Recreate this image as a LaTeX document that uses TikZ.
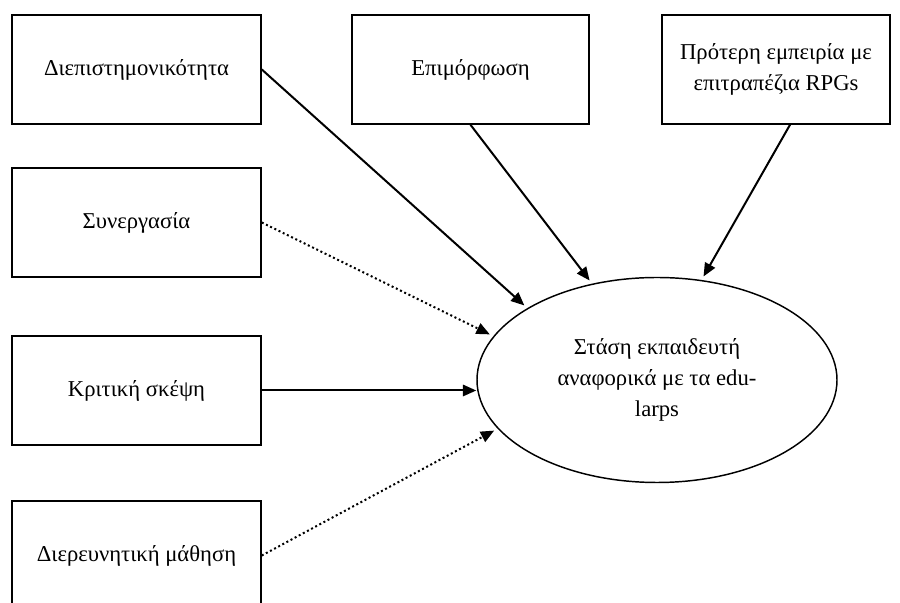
\documentclass[tikz,border=0pt]{standalone}
\usepackage{fontspec}
\setmainfont{Liberation Serif}
\usepackage{tikz}
\usetikzlibrary{arrows.meta,positioning,shapes.geometric}

\begin{document}
\begin{tikzpicture}[x=0.75pt,y=0.75pt,
  box/.style={draw,line width=1.2pt,minimum width=186.75pt,minimum height=81.75pt,
    align=center,font=\fontsize{17}{23.5}\selectfont},
  goalnode/.style={draw,ellipse,line width=1.1pt,minimum width=270pt,minimum height=153.75pt,
    align=center,font=\fontsize{17}{23.5}\selectfont},
  link/.style={line width=1.5pt,-{Triangle[length=10pt,width=8.5pt]},shorten >=3pt},
  weak/.style={link,dash pattern=on 1.5pt off 2pt}]
  \useasboundingbox (0,0) rectangle (900,603); % 図全体の範囲
  \node[box] (dip) at (136.5,533.5) {Διεπιστημονικότητα}; % 左上の箱
  \node[box,minimum width=177.75pt] (epi) at (470.5,533.5) {Επιμόρφωση}; % 中央上の箱
  \node[box,minimum width=171pt] (pro) at (776,533.5) {Πρότερη εμπειρία με\\επιτραπέζια RPGs}; % 右上の箱
  \node[box] (syn) at (136.5,380.5) {Συνεργασία}; % 左の2番目の箱
  \node[box] (krit) at (136.5,212.5) {Κριτική σκέψη}; % 左の3番目の箱
  \node[box] (dier) at (136.5,47.5) {Διερευνητική μάθηση}; % 左下の箱（下端は切れる）
  \node[goalnode] (goal) at (657,223) {Στάση εκπαιδευτή\\αναφορικά με τα edu-\\larps}; % 中央の楕円
  \draw[link] (dip.east) -- (goal.151); % 実線の矢印
  \draw[link] (epi.south) -- (goal.124); % 実線の矢印
  \draw[link] ([xshift=10.5pt]pro.south) -- (goal.66); % 実線の矢印
  \draw[weak] (syn.east) -- (goal.165); % 点線の矢印
  \draw[link,shorten >=0pt] (krit.east) -- (krit.east -| goal.west); % 水平の矢印
  \draw[weak] (dier.east) -- (goal.197); % 点線の矢印
\end{tikzpicture}
\end{document}
